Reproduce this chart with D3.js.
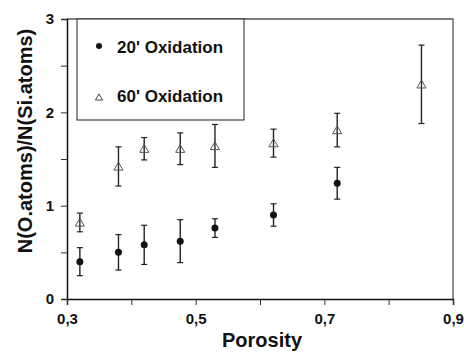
<!DOCTYPE html>
<html>
<head>
<meta charset="utf-8">
<script src="https://cdn.jsdelivr.net/npm/d3@7"></script>
<style>
  body { margin: 0; background: #fff; }
  text { font-family: "Liberation Sans", Arial, sans-serif; font-weight: bold; fill: #111; }
</style>
</head>
<body>
<div id="chart"></div>
<script>
// 20 min oxidation (dots)
var poro20 = [0.32, 0.38, 0.42, 0.476, 0.53, 0.621, 0.72]
var ratio20 = [0.40, 0.50, 0.58, 0.62, 0.76, 0.90, 1.24]
var err20 = [0.15, 0.19, 0.21, 0.23, 0.10, 0.12, 0.17]

// 60 min oxidation (triangles)
var poro60 = [0.32, 0.38, 0.42, 0.476, 0.53, 0.621, 0.72, 0.851]
var ratio60 = [0.82, 1.42, 1.61, 1.61, 1.64, 1.67, 1.81, 2.30]
var err60 = [0.10, 0.21, 0.12, 0.17, 0.23, 0.15, 0.18, 0.42]

var xTicks = [0.3, 0.4, 0.5, 0.6, 0.7, 0.8, 0.9]
var xLabels = [0.3, 0.5, 0.7, 0.9]
var yTicks = [0, 0.5, 1, 1.5, 2, 2.5, 3]
var yLabels = [0, 1, 2, 3]

var W = 464, H = 354
var margin = {top: 19, right: 11, bottom: 55, left: 67},
  width = W - margin.left - margin.right,
  height = H - margin.top - margin.bottom

var svg = d3.select("#chart").append("svg")
  .attr("width", W)
  .attr("height", H)
  .append("g")
  .attr("transform", "translate(" + margin.left + "," + margin.top + ")")

var x = d3.scaleLinear().domain([0.3, 0.9]).range([0, width])
var y = d3.scaleLinear().domain([0, 3]).range([height, 0])

// frame: top and right
svg.append("path")
  .attr("d", "M0,0H" + width + "V" + height)
  .attr("fill", "none")
  .attr("stroke", "#555")
  .attr("stroke-width", 1.3)

var xAxis = svg.append("g")
  .attr("transform", "translate(0," + height + ")")
  .call(d3.axisBottom(x).tickValues(xTicks).tickSize(6).tickPadding(8)
    .tickFormat(function(d) { return xLabels.indexOf(d) >= 0 ? d3.format(".1f")(d).replace(".", ",") : "" }))
xAxis.selectAll("text").attr("font-size", 15).attr("fill", "#111")

var yAxis = svg.append("g")
  .call(d3.axisLeft(y).tickValues(yTicks).tickSize(6).tickPadding(7)
    .tickFormat(function(d) { return yLabels.indexOf(d) >= 0 ? d : "" }))
yAxis.selectAll("text").attr("font-size", 15).attr("fill", "#111")

svg.selectAll(".domain").attr("stroke", "#111").attr("stroke-width", 1.5)
svg.selectAll(".tick line").attr("stroke", "#333").attr("stroke-width", 1)
svg.selectAll(".tick text").style("font-family", "'Liberation Sans', Arial, sans-serif").style("font-weight", "bold")

// axis titles
svg.append("text")
  .attr("x", 195)
  .attr("y", height + 48)
  .attr("text-anchor", "middle")
  .attr("font-size", 20)
  .text("Porosity")

svg.append("text")
  .attr("transform", "translate(-35," + (height / 2 - 18) + ") rotate(-90)")
  .attr("text-anchor", "middle")
  .attr("font-size", 20)
  .text("N(O.atoms)/N(Si.atoms)")

// error bars
function errorBars(px, py, pe, color) {
  var g = svg.append("g")
  var data = px.map(function(d, i) { return {x: d, y: py[i], e: pe[i]} })
  g.selectAll("line.v").data(data).enter().append("line")
    .attr("x1", function(d) { return x(d.x) }).attr("x2", function(d) { return x(d.x) })
    .attr("y1", function(d) { return y(d.y + d.e) }).attr("y2", function(d) { return y(d.y - d.e) })
    .attr("stroke", color).attr("stroke-width", 1.4)
  ;[1, -1].forEach(function(s) {
    g.selectAll("line.c" + s).data(data).enter().append("line")
      .attr("x1", function(d) { return x(d.x) - 3 }).attr("x2", function(d) { return x(d.x) + 3 })
      .attr("y1", function(d) { return y(d.y + s * d.e) }).attr("y2", function(d) { return y(d.y + s * d.e) })
      .attr("stroke", color).attr("stroke-width", 1.2)
  })
  return data
}

var d60 = errorBars(poro60, ratio60, err60, "#222")
var d20 = errorBars(poro20, ratio20, err20, "#222")

var tri = d3.symbol().type(d3.symbolTriangle).size(36)

svg.selectAll(".tri").data(d60).enter().append("path")
  .attr("transform", function(d) { return "translate(" + x(d.x) + "," + (y(d.y) + 1) + ")" })
  .attr("d", tri)
  .attr("fill", "none")
  .attr("stroke", "#555")
  .attr("stroke-width", 1)

svg.selectAll(".dot").data(d20).enter().append("circle")
  .attr("cx", function(d) { return x(d.x) })
  .attr("cy", function(d) { return y(d.y) })
  .attr("r", 3.5)
  .attr("fill", "#111")

// legend
var lg = svg.append("g").attr("transform", "translate(10,0)")
lg.append("rect")
  .attr("width", 167).attr("height", 101)
  .attr("fill", "#fff").attr("stroke", "#222").attr("stroke-width", 1)
lg.append("circle").attr("cx", 22).attr("cy", 27).attr("r", 3).attr("fill", "#111")
lg.append("path").attr("transform", "translate(22,79)").attr("d", d3.symbol().type(d3.symbolTriangle).size(22))
  .attr("fill", "none").attr("stroke", "#444").attr("stroke-width", 1)
lg.append("text").attr("x", 40).attr("y", 34).attr("font-size", 17).text("20' Oxidation")
lg.append("text").attr("x", 40).attr("y", 83).attr("font-size", 17).text("60' Oxidation")
</script>
</body>
</html>
